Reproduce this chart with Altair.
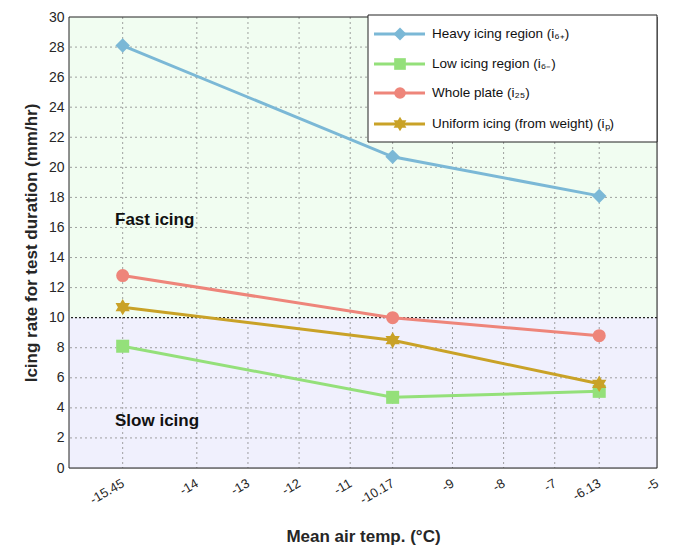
import altair as alt
import pandas as pd

temps = [-15.45, -10.17, -6.13]
heavy = [28.1, 20.7, 18.1]
low = [8.1, 4.7, 5.1]
whole = [12.8, 10.0, 8.8]
uniform = [10.7, 8.5, 5.6]

series_names = ["Heavy icing region (i₆₊)", "Low icing region (i₆₋)",
                "Whole plate (i₂₅)", "Uniform icing (from weight) (iₚ)"]
series_colors = ["#7bb8d6", "#94e07a", "#ee857a", "#c9a227"]
hexagram = ("M0,-1L0.29,-0.5L0.87,-0.5L0.58,0L0.87,0.5L0.29,0.5L0,1"
            "L-0.29,0.5L-0.87,0.5L-0.58,0L-0.87,-0.5L-0.29,-0.5Z")
series_shapes = ["diamond", "square", "circle", hexagram]
series_sizes = [210, 170, 170, 270]

x_ticks = [-15.45, -14, -13, -12, -11, -10.17, -9, -8, -7, -6.13, -5]
y_ticks = list(range(0, 31, 2))
x_domain = [-16.5, -5]
y_domain = [0, 30]

W, H = 588, 451
FONT = "Liberation Sans"

rows = []
for name, vals in zip(series_names, [heavy, low, whole, uniform]):
    for t, v in zip(temps, vals):
        rows.append({"series": name, "temp": t, "rate": v})
df = pd.DataFrame(rows)

bg = pd.DataFrame({
    "x1": [x_domain[0], x_domain[0]], "x2": [x_domain[1], x_domain[1]],
    "y1": [10, 0], "y2": [30, 10], "fill": ["#f1fdf1", "#f0f0fd"],
})

xs = alt.Scale(domain=x_domain, nice=False, zero=False)
ys = alt.Scale(domain=y_domain, nice=False)

x_axis = alt.Axis(values=x_ticks, labelExpr="toString(datum.value)",
                  labelAngle=-30, title="Mean air temp. (°C)", labelOverlap=False,
                  labelFontSize=13, titleFontSize=17, titleFontWeight="bold",
                  labelPadding=14, titlePadding=22, tickSize=0, domain=False, grid=False,
                  labelColor="#262626", titleColor="#262626", labelFont=FONT, titleFont=FONT,
                  labelAlign="right", labelBaseline="middle")
y_axis = alt.Axis(values=y_ticks, title="Icing rate for test duration (mm/hr)",
                  labelOverlap=False, labelFontSize=14, titleFontSize=17, titleFontWeight="bold",
                  labelPadding=5, titlePadding=8, tickSize=0, domain=False, grid=False,
                  labelColor="#262626", titleColor="#262626", labelFont=FONT, titleFont=FONT)


def X(field, scale=xs):
    return alt.X(field, scale=scale, axis=x_axis)


def Y(field, scale=ys):
    return alt.Y(field, scale=scale, axis=y_axis)


bg_layer = alt.Chart(bg).mark_rect().encode(
    x=X("x1:Q"), x2="x2:Q", y=Y("y1:Q"), y2="y2:Q",
    fill=alt.Fill("fill:N", scale=None),
)

gx = pd.DataFrame({"v": [t for t in x_ticks if x_domain[0] < t < x_domain[1]]})
gy = pd.DataFrame({"v": [t for t in y_ticks if y_domain[0] < t < y_domain[1] and t != 10]})
grid_x = alt.Chart(gx).mark_rule(color="#8a8a8a", strokeDash=[2, 3], strokeWidth=1, opacity=0.8).encode(
    x=X("v:Q"))
grid_y = alt.Chart(gy).mark_rule(color="#8a8a8a", strokeDash=[2, 3], strokeWidth=1, opacity=0.8).encode(
    y=Y("v:Q"))

ten_line = alt.Chart(pd.DataFrame({"y": [10]})).mark_rule(
    color="#222", strokeDash=[2, 2], strokeWidth=1.3).encode(y=Y("y:Q"))

frame = alt.Chart(pd.DataFrame({"x1": [x_domain[0]], "x2": [x_domain[1]],
                                "y1": [y_domain[0]], "y2": [y_domain[1]]})).mark_rect(
    fill=None, stroke="#222", strokeWidth=1).encode(
    x=X("x1:Q"), x2="x2:Q", y=Y("y1:Q"), y2="y2:Q")

color = alt.Color("series:N", scale=alt.Scale(domain=series_names, range=series_colors), legend=None)
shape = alt.Shape("series:N", scale=alt.Scale(domain=series_names, range=series_shapes), legend=None)

lines = alt.Chart(df).mark_line(strokeWidth=3).encode(
    x=X("temp:Q"), y=Y("rate:Q"), color=color, detail="series:N")

point_layers = []
for name, sz in zip(series_names, series_sizes):
    point_layers.append(
        alt.Chart(df).transform_filter(alt.datum.series == name)
        .mark_point(filled=True, opacity=1, size=sz).encode(
            x=X("temp:Q"), y=Y("rate:Q"), color=color, shape=shape))

ann = pd.DataFrame({"temp": [-15.6, -15.6], "rate": [16.5, 3.1], "label": ["Fast icing", "Slow icing"]})
ann_layer = alt.Chart(ann).mark_text(align="left", baseline="middle", fontSize=17, fontWeight="bold",
                                     font=FONT, color="#111").encode(
    x=X("temp:Q"), y=Y("rate:Q"), text="label:N")

# legend (pixel layout within plot area)
leg = pd.DataFrame({"series": series_names, "py": [17, 47, 76, 107],
                    "lx1": [305] * 4, "lx2": [356] * 4, "mx": [331] * 4, "tx": [363] * 4})
leg_box = alt.Chart(pd.DataFrame({"a": [0]})).mark_rect(fill="white", stroke="#222", strokeWidth=1).encode(
    x=alt.value(299), x2=alt.value(588), y=alt.value(-2), y2=alt.value(125))
leg_lines = alt.Chart(leg).mark_rule(strokeWidth=3).encode(
    x=alt.X("lx1:Q", scale=None), x2="lx2:Q", y=alt.Y("py:Q", scale=None), color=color)
leg_pt_layers = []
for name, sz in zip(series_names, series_sizes):
    leg_pt_layers.append(
        alt.Chart(leg).transform_filter(alt.datum.series == name)
        .mark_point(filled=True, opacity=1, size=sz * 0.8).encode(
            x=alt.X("mx:Q", scale=None), y=alt.Y("py:Q", scale=None), color=color, shape=shape))
leg_text = alt.Chart(leg).mark_text(align="left", baseline="middle", fontSize=13.5, font=FONT,
                                    color="#111").encode(
    x=alt.X("tx:Q", scale=None), y=alt.Y("py:Q", scale=None), text="series:N")

chart = alt.layer(bg_layer, grid_x, grid_y, ten_line, lines, *point_layers, ann_layer, frame,
                  leg_box, leg_lines, *leg_pt_layers, leg_text).properties(
    width=W, height=H,
    autosize=alt.AutoSizeParams(type="none"),
    padding={"left": 61, "top": 9, "right": 8, "bottom": 80},
).configure_view(stroke=None).configure(background="white")

chart.save("out.html", embed_options={"renderer": "svg", "actions": False})
